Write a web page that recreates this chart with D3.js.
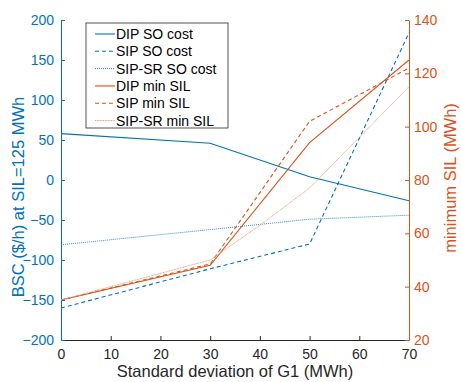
<!DOCTYPE html>
<html>
<head>
<meta charset="utf-8">
<script src="https://cdn.jsdelivr.net/npm/d3@7"></script>
<style>
  body { margin: 0; background: #fff; }
  svg text { font-family: "Liberation Sans", Arial, sans-serif; }
</style>
</head>
<body>
<div id="chart"></div>
<script>
// x values (standard deviation of G1, MWh)
var xBreaks = [0, 30, 50, 70];
var xSR = [0, 30, 40, 50, 60, 70];

// left axis series (BSC $/h)
var dipSO = [58, 46, 4, -26];
var sipSO = [-160, -111, -80, 184];
var sipSrSO = [-81, -62, -49, -44];

// right axis series (minimum SIL, MWh)
var dipSIL = [35, 48, 94, 125];
var sipSIL = [35, 48.5, 102, 122];
var sipSrSIL = [35, 50, 63, 77, 96, 115];

var xTicks = [0, 10, 20, 30, 40, 50, 60, 70];
var leftTicks = [-200, -150, -100, -50, 0, 50, 100, 150, 200];
var rightTicks = [20, 40, 60, 80, 100, 120, 140];

var blue = "#0072BD", orange = "#D95319", grey = "#262626";

var margin = {top: 20, right: 52, bottom: 42, left: 61};
var W = 461, H = 382;
var width = W - margin.left - margin.right;
var height = H - margin.top - margin.bottom;

var svg = d3.select("#chart").append("svg")
    .attr("width", W).attr("height", H);
var g = svg.append("g")
    .attr("transform", "translate(" + margin.left + "," + margin.top + ")");

var x = d3.scaleLinear().domain([0, 70]).range([0, width]);
var yL = d3.scaleLinear().domain([-200, 200]).range([height, 0]);
var yR = d3.scaleLinear().domain([20, 140]).range([height, 0]);

// axes (ticks pointing inward, MATLAB style)
var xAxis = g.append("g")
    .attr("transform", "translate(0," + height + ")")
    .call(d3.axisBottom(x).tickValues(xTicks).tickSizeInner(-4).tickSizeOuter(0).tickPadding(9));
xAxis.selectAll("path, line").attr("stroke", grey);
xAxis.selectAll("text").attr("fill", grey).style("font-size", "14px");

var lAxis = g.append("g")
    .call(d3.axisLeft(yL).tickValues(leftTicks).tickSizeInner(-4).tickSizeOuter(0).tickPadding(7));
lAxis.selectAll("path, line").attr("stroke", blue);
lAxis.selectAll("text").attr("fill", blue).style("font-size", "14px");

var rAxis = g.append("g")
    .attr("transform", "translate(" + width + ",0)")
    .call(d3.axisRight(yR).tickValues(rightTicks).tickSizeInner(-4).tickSizeOuter(0).tickPadding(5));
rAxis.selectAll("path, line").attr("stroke", orange);
rAxis.selectAll("text").attr("fill", orange).style("font-size", "14px");

// axis labels
svg.append("text")
    .attr("transform", "translate(24,197) rotate(-90)")
    .attr("text-anchor", "middle")
    .attr("fill", blue)
    .style("font-size", "16.5px")
    .text("BSC ($/h) at SIL=125 MWh");

svg.append("text")
    .attr("transform", "translate(456,178) rotate(-90)")
    .attr("text-anchor", "middle")
    .attr("fill", orange)
    .style("font-size", "16.5px")
    .text("minimum SIL (MWh)");

svg.append("text")
    .attr("x", margin.left + width / 2)
    .attr("y", 377)
    .attr("text-anchor", "middle")
    .attr("fill", grey)
    .style("font-size", "16.5px")
    .text("Standard deviation of G1 (MWh)");

// series
var series = [
  {name: "DIP SO cost", xs: xBreaks, ys: dipSO, y: yL, color: blue, dash: null, w: 1.1, op: 1},
  {name: "SIP SO cost", xs: xBreaks, ys: sipSO, y: yL, color: blue, dash: "4,3", w: 1.1, op: 1},
  {name: "SIP-SR SO cost", xs: xBreaks, ys: sipSrSO, y: yL, color: blue, dash: "1,1", w: 1, op: 0.8},
  {name: "DIP min SIL", xs: xBreaks, ys: dipSIL, y: yR, color: orange, dash: null, w: 1.1, op: 1},
  {name: "SIP min SIL", xs: xBreaks, ys: sipSIL, y: yR, color: orange, dash: "4,3", w: 1.1, op: 1},
  {name: "SIP-SR min SIL", xs: xSR, ys: sipSrSIL, y: yR, color: "#EBA07E", dash: "1,0.6", w: 1, op: 1}
];

series.forEach(function(s) {
  var pts = s.xs.map(function(v, i) { return [v, s.ys[i]]; });
  var line = d3.line()
      .x(function(d) { return x(d[0]); })
      .y(function(d) { return s.y(d[1]); });
  g.append("path")
      .datum(pts)
      .attr("fill", "none")
      .attr("stroke", s.color)
      .attr("stroke-width", s.w)
      .attr("stroke-opacity", s.op)
      .attr("stroke-dasharray", s.dash)
      .attr("d", line);
});

// legend
var leg = svg.append("g").attr("transform", "translate(86,23)");
leg.append("rect")
    .attr("width", 142).attr("height", 105)
    .attr("fill", "#fff").attr("stroke", grey).attr("stroke-width", 0.8);
series.forEach(function(s, i) {
  var yy = 11 + i * 17.3;
  leg.append("line")
      .attr("x1", 9).attr("x2", 29).attr("y1", yy).attr("y2", yy)
      .attr("stroke", s.color)
      .attr("stroke-width", s.name === "DIP min SIL" ? 2 : s.w)
      .attr("stroke-opacity", s.name === "DIP min SIL" ? 0.6 : s.op)
      .attr("stroke-dasharray", s.dash);
  leg.append("text")
      .attr("x", 30).attr("y", yy + 5)
      .attr("fill", "#000")
      .style("font-size", "14px")
      .text(s.name);
});
</script>
</body>
</html>
